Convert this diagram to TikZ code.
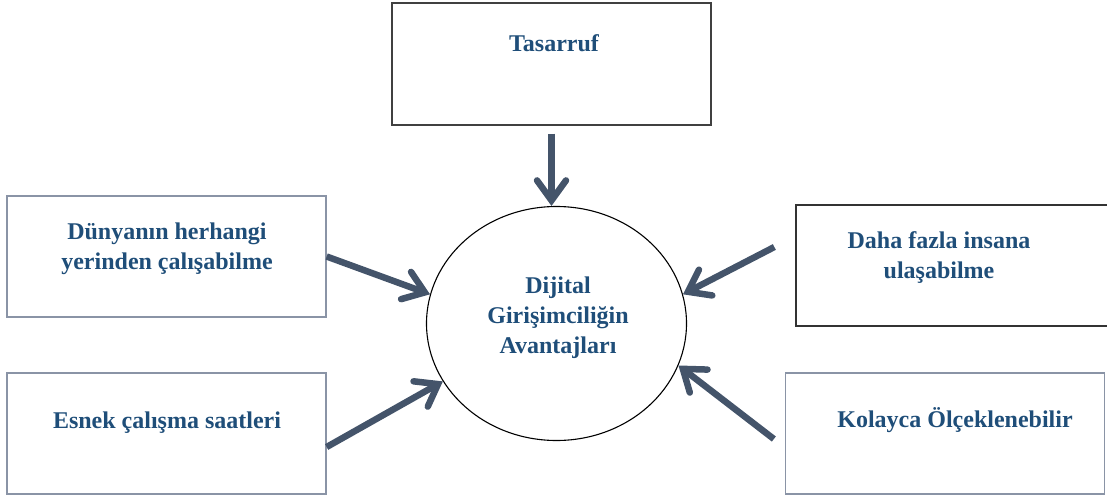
\documentclass[tikz,border=0pt]{standalone}
\usepackage{fontspec}
\setmainfont{Liberation Serif}
\usetikzlibrary{positioning, arrows.meta, calc, shapes.geometric}
\definecolor{txtblue}{HTML}{1F4E79}
\definecolor{arrowslate}{HTML}{44546A}
\definecolor{boxgray}{HTML}{8A94A6}

\begin{document}
\begin{tikzpicture}[
    x=1pt, y=-1pt,
    font=\fontsize{24}{30}\selectfont\bfseries,
    % --- Styles ---
    box/.style={draw=#1, line width=1.3pt, fill=white, minimum width=319pt, minimum height=121pt, inner sep=0pt},
    box/.default=boxgray,
    hub/.style={draw=black, line width=1.1pt, ellipse, minimum width=260pt, minimum height=234pt, inner sep=0pt},
    label_text/.style={align=center, text=txtblue},
    arrow_thick/.style={-{Straight Barb[length=20pt,width=29pt,line cap=round,line join=miter]}, line width=6.5pt, color=arrowslate},
]
    \useasboundingbox (0,0) rectangle (1107,500);

    % ==========================
    % 1. CENTRAL ELLIPSE
    % ==========================
    \node[hub] (hub) at (556.5,323.5) {};
    \node[label_text] at ($(hub.center)+(1.5,-6)$) {Dijital\\Girişimciliğin\\Avantajları};

    % ==========================
    % 2. BOXES (Top, Left)
    % ==========================
    \node[box=black!75, minimum height=122pt] (tas) at (551.5,64) {};
    \node[label_text] at ($(tas.north)+(2.5,40.5)$) {Tasarruf};

    \node[box] (dun) at (166.5,256.5) {};
    \node[label_text] at ($(dun.center)+(0.5,-7.5)$) {Dünyanın herhangi\\yerinden çalışabilme};

    \node[box] (esn) at (166.5,433.5) {};
    \node[label_text] at ($(esn.center)+(0.5,-11)$) {Esnek çalışma saatleri};

    % ==========================
    % 3. BOXES (Right)
    % ==========================
    \node[box=black!80, minimum width=314pt] (daha) at (953,265.5) {};
    \node[label_text] at ($(daha.center)+(-14,-7.5)$) {Daha fazla insana\\ulaşabilme};

    \node[box] (kol) at (945,433.5) {};
    \node[label_text] at ($(kol.center)+(10,-13)$) {Kolayca Ölçeklenebilir};

    % ==========================
    % 4. ARROWS INTO THE ELLIPSE
    % ==========================
    \coordinate (esn_out) at ($(esn.east)+(0,13.5)$);
    \coordinate (daha_out) at ($(daha.west)+(-21,-18.5)$);
    \coordinate (kol_out) at ($(kol.west)+(-11,5.5)$);

    \draw[arrow_thick, shorten <=8pt] (tas.south) -- (tas.south |- hub.north);
    \draw[arrow_thick] (dun.east) -- (hub.167);
    \draw[arrow_thick] (esn_out) -- (hub.207);
    \draw[arrow_thick] (daha_out) -- (hub.13);
    \draw[arrow_thick] (kol_out) -- (hub.341);

\end{tikzpicture}
\end{document}
